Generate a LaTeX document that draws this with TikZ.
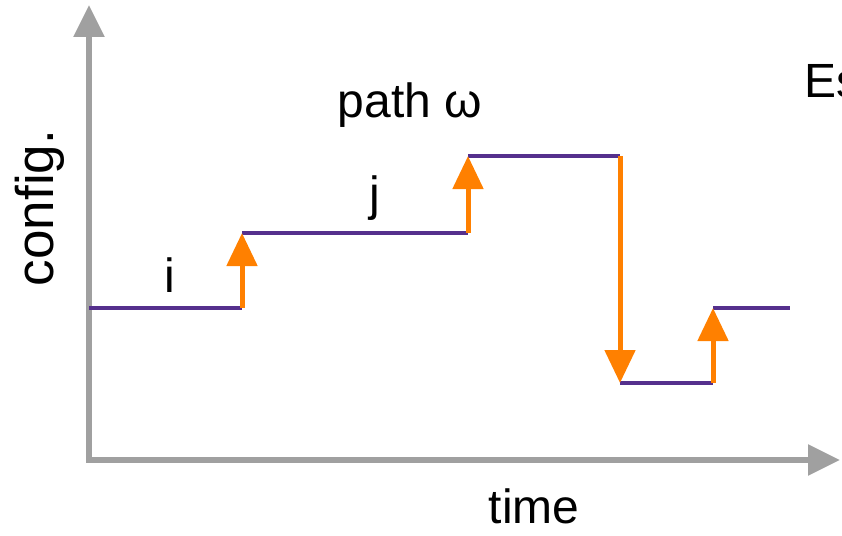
\documentclass[tikz,border=0pt]{standalone}
\usepackage{fontspec}
\setmainfont{Liberation Sans}
\usetikzlibrary{arrows.meta}
\definecolor{axisgray}{HTML}{A0A0A0}
\definecolor{pathpurple}{HTML}{55308D}
\definecolor{jumporange}{HTML}{FF8000}
\begin{document}
\begin{tikzpicture}[x=1pt,y=1pt,
  axis/.style={draw=axisgray,line width=5.5pt,-{Triangle[width=30pt,length=32pt]}},
  level/.style={draw=pathpurple,line width=4.5pt},
  jump/.style={draw=jumporange,line width=5pt,-{Triangle[width=30pt,length=33pt]}},
  lbl/.style={inner sep=0pt,font=\fontsize{48}{58}\selectfont}]
\path[use as bounding box,clip] (0,0) rectangle (842,-535);

% axes
\coordinate (O) at (89,-460);
\coordinate (ytip) at (89,-5);
\coordinate (xtip) at (840,-460);
\draw[axis] ([xshift=-2.75pt]O) -- (xtip);
\draw[axis] ([yshift=-2.75pt]O) -- (ytip);

% corners of the piecewise-constant path
\coordinate (a0) at (89,-308);
\coordinate (a1) at (242,-308);
\coordinate (b0) at (242,-233);
\coordinate (b1) at (468,-233);
\coordinate (c0) at (468,-156);
\coordinate (c1) at (620,-156);
\coordinate (d0) at (620,-383);
\coordinate (d1) at (713,-383);
\coordinate (e0) at (713,-308);
\coordinate (e1) at (790,-308);

% holding levels
\draw[level] (a0) -- (a1);
\draw[level] (b0) -- (b1);
\draw[level] (c0) -- (c1);
\draw[level] (d0) -- (d1);
\draw[level] (e0) -- (e1);

% jumps
\draw[jump] (a1) -- (b0);
\draw[jump] (b1) -- (c0);
\draw[jump] (c1) -- (d0);
\draw[jump] (d1) -- (e0);

% labels
\node[lbl,anchor=base] (ti) at (170,-292) {i};
\node[lbl,anchor=base] (tj) at (375,-210) {j};
\node[lbl,anchor=base] (tpath) at (410,-117) {path ω};
\node[lbl,anchor=base] (ttime) at (534,-523) {time};
\node[lbl,anchor=base,rotate=90,font=\fontsize{53}{64}\selectfont] (tconf) at (53,-208) {config.};
\node[lbl,anchor=base west] (tes) at (804,-97) {Es};
\end{tikzpicture}
\end{document}
